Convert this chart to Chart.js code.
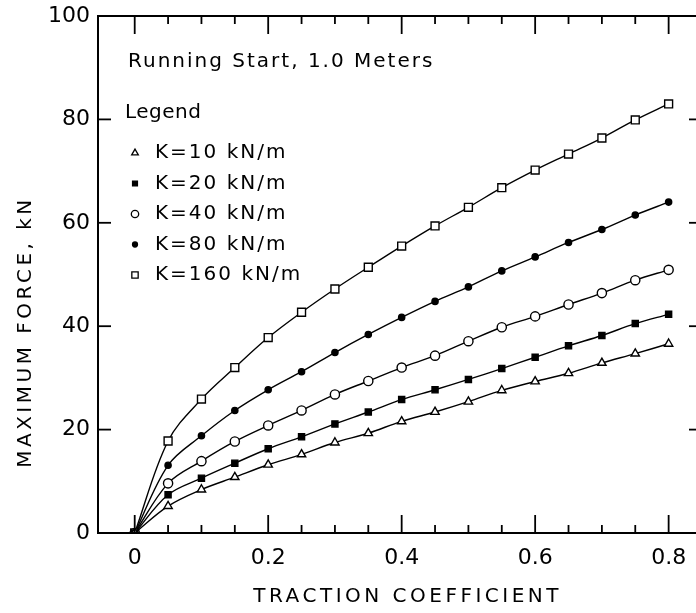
<!DOCTYPE html>
<html><head><meta charset="utf-8">
<script src="https://cdn.jsdelivr.net/npm/chart.js@4.4.1/dist/chart.umd.min.js"></script>
<style>html,body{margin:0;padding:0;background:#fff;overflow:hidden;width:696px;height:613px}canvas{display:block}</style>
</head><body>
<canvas id="c" width="712" height="613"></canvas>
<script>
// ---- data ----
const traction = [0,0.05,0.1,0.15,0.2,0.25,0.3,0.35,0.4,0.45,0.5,0.55,0.6,0.65,0.7,0.75,0.8];
const forceK10  = [0,5.2,8.4,10.8,13.2,15.2,17.5,19.3,21.6,23.4,25.4,27.6,29.3,30.9,32.9,34.7,36.6];
const forceK20  = [0,7.4,10.6,13.5,16.3,18.6,21.1,23.4,25.8,27.7,29.7,31.8,34.0,36.2,38.2,40.5,42.3];
const forceK40  = [0,9.6,13.9,17.7,20.8,23.7,26.8,29.4,32.0,34.3,37.1,39.8,41.9,44.2,46.4,48.9,50.9];
const forceK80  = [0,13.1,18.8,23.7,27.7,31.2,34.9,38.4,41.7,44.8,47.6,50.7,53.4,56.2,58.7,61.5,64.0];
const forceK160 = [0,17.8,25.9,32.0,37.8,42.7,47.2,51.4,55.5,59.4,63.0,66.8,70.2,73.3,76.4,79.9,83.0];
const seriesLabels = ['K=10 kN/m','K=20 kN/m','K=40 kN/m','K=80 kN/m','K=160 kN/m'];
const xMajorTicks = [0,0.2,0.4,0.6,0.8];
const xMinorTicks = [0.05,0.1,0.15,0.25,0.3,0.35,0.45,0.5,0.55,0.65,0.7,0.75];
const yTicks = [0,20,40,60,80,100];
const noteText = 'Running Start, 1.0 Meters';
const legendTitle = 'Legend';
const xTitle = 'TRACTION COEFFICIENT';
const yTitle = 'MAXIMUM FORCE, kN';

// ---- styles ----
const FONT = '"DejaVu Sans", "Liberation Sans", sans-serif';
const styles = [
  {pointStyle:'triangle', radius:4.8, fill:'#fff'},
  {pointStyle:'rect', radius:4.3, fill:'#000'},
  {pointStyle:'circle', radius:4.6, fill:'#fff'},
  {pointStyle:'circle', radius:3.1, fill:'#000'},
  {pointStyle:'rect', radius:5.6, fill:'#fff'}
];
const allSeries = [forceK10, forceK20, forceK40, forceK80, forceK160];

const datasets = allSeries.map((vals, i) => ({
  label: seriesLabels[i],
  data: traction.map((x, j) => ({x: x, y: vals[j]})),
  borderColor: '#000',
  borderWidth: 1.4,
  pointStyle: styles[i].pointStyle,
  pointRadius: styles[i].radius,
  pointBackgroundColor: styles[i].fill,
  pointBorderColor: '#000',
  pointBorderWidth: 1.4,
  tension: 0.35,
  fill: false
}));

function drawSeg(c, x1, y1, x2, y2) {
  c.beginPath(); c.moveTo(x1, y1); c.lineTo(x2, y2); c.stroke();
}

const framePlugin = {
  id: 'frame',
  afterDraw(chart) {
    const ctx = chart.ctx;
    const a = chart.chartArea;
    const xs = chart.scales.x, ys = chart.scales.y;
    ctx.save();
    ctx.strokeStyle = '#000';
    ctx.lineWidth = 2;
    drawSeg(ctx, a.left, a.top, a.right, a.top);
    drawSeg(ctx, a.right, a.top, a.right, a.bottom);
    drawSeg(ctx, a.right, a.bottom, a.left - 1, a.bottom);
    drawSeg(ctx, a.left, a.bottom, a.left, a.top - 1);
    ctx.lineWidth = 1.8;
    xMajorTicks.forEach(v => {
      const px = xs.getPixelForValue(v);
      drawSeg(ctx, px, a.bottom, px, a.bottom - 18);
      drawSeg(ctx, px, a.top, px, a.top + 18);
    });
    xMinorTicks.forEach(v => {
      const px = xs.getPixelForValue(v);
      drawSeg(ctx, px, a.bottom, px, a.bottom - 8);
      drawSeg(ctx, px, a.top, px, a.top + 8);
    });
    yTicks.forEach(v => {
      const py = ys.getPixelForValue(v);
      drawSeg(ctx, a.left, py, a.left + 13, py);
      drawSeg(ctx, a.right, py, a.right - 13, py);
    });

    // texts
    ctx.fillStyle = '#000';
    ctx.textBaseline = 'middle';
    ctx.textAlign = 'left';
    ctx.font = '20px ' + FONT;
    ctx.letterSpacing = '2px';
    ctx.fillText(noteText, a.left + 30, a.top + 46);
    ctx.letterSpacing = '0.5px';
    ctx.fillText(legendTitle, a.left + 27, a.top + 97);
    ctx.letterSpacing = '2px';
    for (let i = 0; i < seriesLabels.length; i++) {
      const y = a.top + 137 + i * 30.5;
      ctx.fillText(seriesLabels[i], a.left + 57, y);
      const st = styles[i];
      ctx.fillStyle = st.fill;
      ctx.strokeStyle = '#000';
      ctx.lineWidth = 1.3;
      Chart.helpers.drawPoint(ctx, {pointStyle: st.pointStyle, radius: st.radius * 0.8, rotation: 0, borderWidth: 1.3}, a.left + 37, y);
      ctx.fillStyle = '#000';
    }
    ctx.textAlign = 'center';
    ctx.font = '20px ' + FONT;
    ctx.letterSpacing = '3.5px';
    ctx.fillText(xTitle, xs.getPixelForValue(0.4) + 6, a.bottom + 64);
    ctx.save();
    ctx.translate(a.left - 72, a.top + 316);
    ctx.rotate(-Math.PI / 2);
    ctx.fillText(yTitle, 0, 0);
    ctx.restore();
    ctx.restore();
  }
};

new Chart(document.getElementById('c'), {
  type: 'line',
  data: {datasets: datasets},
  options: {
    responsive: false,
    animation: false,
    devicePixelRatio: 1,
    layout: {padding: {top: 16, right: 10, left: 0, bottom: 0}},
    plugins: {legend: {display: false}, tooltip: {enabled: false}},
    scales: {
      x: {
        type: 'linear', min: -0.055, max: 0.85,
        grid: {display: false, drawTicks: false},
        border: {display: false},
        afterBuildTicks: s => { s.ticks = xMajorTicks.map(v => ({value: v})); },
        afterFit: s => { s.height = 80; s.paddingLeft = 0; s.paddingRight = 0; },
        ticks: {
          color: '#000', padding: 12, maxRotation: 0, autoSkip: false,
          font: {family: FONT, size: 22},
          callback: v => v === 0 ? '0' : v.toFixed(1)
        }
      },
      y: {
        type: 'linear', min: 0, max: 100,
        grid: {display: false, drawTicks: false},
        border: {display: false},
        afterBuildTicks: s => { s.ticks = yTicks.map(v => ({value: v})); },
        afterFit: s => { s.width = 98; s.paddingTop = 0; s.paddingBottom = 0; },
        ticks: {
          color: '#000', padding: 8, autoSkip: false,
          font: {family: FONT, size: 22}
        }
      }
    }
  },
  plugins: [framePlugin]
});
</script>
</body></html>
